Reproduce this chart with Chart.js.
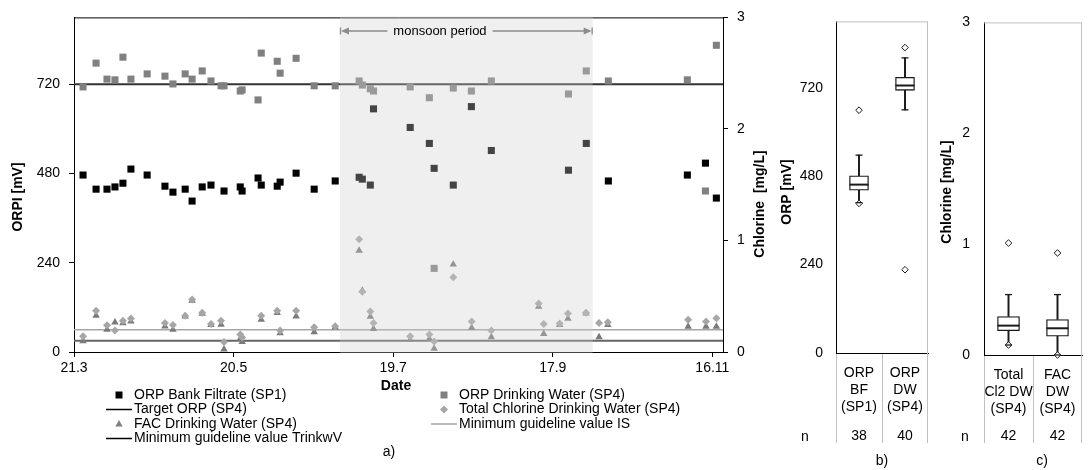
<!DOCTYPE html>
<html>
<head>
<meta charset="utf-8">
<title>ORP and chlorine</title>
<script src="https://cdn.jsdelivr.net/npm/chart.js@4.4.1/dist/chart.umd.min.js"></script>
<style>
  html, body { margin: 0; padding: 0; background: #fff; width: 1088px; height: 470px; overflow: hidden; }
  canvas { position: absolute; top: 0; }
  #chartA { left: 0; }
  #chartB { left: 770px; }
  #chartC { left: 935px; }
</style>
</head>
<body>
<canvas id="chartA" width="775" height="470"></canvas>
<canvas id="chartB" width="170" height="470"></canvas>
<canvas id="chartC" width="160" height="470"></canvas>
<script>
// x axis: days counted from 21.3
const DAY_TICKS = [0, 60, 120, 180, 240];
const DATE_LABELS = ['21.3', '20.5', '19.7', '17.9', '16.11'];
const X_RANGE = [0, 244];
const MONSOON = [100, 195];

const ORP_TICKS = [0, 240, 480, 720];
const CL_TICKS = [0, 1, 2, 3];

// ORP bank filtrate (SP1) [mV]
const BF_DAYS = [3.4, 8.3, 12.4, 15.4, 18.4, 21.4, 27.5, 34.2, 37.2, 41.8, 44.4, 48.2, 51.5, 56.4, 62.5, 63.2, 69.2, 70.4, 76.4, 77.5,
                 83.5, 90.3, 98.2, 107.2, 108.4, 111.4, 112.6, 126.4, 133.6, 135.4, 142.6, 149.4, 156.9, 185.9, 192.6, 200.9, 230.6, 237.4, 241.5];
const BF_ORP  = [476, 438, 438, 444, 454, 492, 476, 446, 430, 438, 406, 444, 449, 433, 444, 433, 468, 449, 446, 457,
                 481, 438, 460, 470, 465, 449, 654, 604, 561, 494, 449, 660, 542, 489, 561, 460, 476, 508, 414];

// ORP drinking water (SP4) [mV]
const DW_DAYS = [3.4, 8.3, 12.4, 15.4, 18.4, 21.4, 27.5, 34.2, 37.2, 41.8, 44.4, 48.2, 51.5, 55.3, 56.4, 62.5, 63.2, 69.2, 70.4, 76.4,
                 77.5, 83.5, 90.3, 98.2, 107.2, 108.4, 111.4, 112.6, 126.4, 133.6, 135.4, 142.6, 149.4, 156.9, 185.9, 192.6, 200.9, 230.6, 237.4, 241.5];
const DW_ORP  = [713, 777, 734, 732, 793, 734, 748, 742, 721, 748, 734, 756, 729, 716, 716, 702, 705, 678, 804, 782,
                 750, 790, 716, 716, 729, 718, 708, 702, 713, 684, 225, 710, 702, 729, 694, 756, 729, 732, 433, 825];

// chlorine drinking water (SP4) [mg/L]
const CL_DAYS  = [3.4, 8.3, 12.4, 15.4, 18.4, 21.4, 34.2, 37.2, 41.8, 44.4, 48.2, 51.5, 55.3, 56.4, 62.5, 63.2, 70.4, 76.4, 77.5,
                  83.5, 90.3, 98.2, 107.2, 108.4, 111.4, 112.6, 126.4, 133.6, 135.4, 142.6, 149.5, 156.9,
                  174.7, 176.6, 182.6, 185.7, 192.5, 197.4, 200.7, 230.9, 237.6, 241.5];
const TOTAL_CL = [0.142, 0.37, 0.24, 0.193, 0.28, 0.30, 0.26, 0.243, 0.326, 0.47, 0.352, 0.252, 0.28, 0.09, 0.157, 0.13, 0.326, 0.37, 0.193,
                  0.37, 0.222, 0.23, 1.01, 0.54, 0.364, 0.26, 0.142, 0.157, 0.095, 0.67, 0.273, 0.193,
                  0.435, 0.252, 0.255, 0.346, 0.352, 0.26, 0.266, 0.29, 0.273, 0.302];
const FAC      = [0.098, 0.326, 0.2, 0.266, 0.26, 0.275, 0.23, 0.2, 0.32, 0.46, 0.345, 0.243, 0.246, 0.024, 0.119, 0.09, 0.29, 0.35, 0.169,
                  0.32, 0.178, 0.22, 0.91, 0.55, 0.317, 0.207, 0.11, 0.119, 0.03, 0.785, 0.217, 0.133,
                  0.406, 0.163, 0.243, 0.30, 0.346, 0.133, 0.243, 0.228, 0.228, 0.228];

const TARGET_ORP = 720;
const MIN_TRINKWV = 0.1;
const MIN_IS = 0.2;

// box plots b) ORP
const B_LABELS = [['ORP', 'BF', '(SP1)'], ['ORP', 'DW', '(SP4)']];
const B_N = [38, 40];
const B_Q1 = [442, 713];
const B_MED = [457, 726];
const B_Q3 = [481, 748];
const B_WLO = [408, 660];
const B_WHI = [537, 801];
const B_OUT_LO = [406, 226];
const B_OUT_HI = [659, 829];

// box plots c) chlorine
const C_LABELS = [['Total', 'Cl2 DW', '(SP4)'], ['FAC', 'DW', '(SP4)']];
const C_N = [42, 42];
const C_Q1 = [0.22, 0.17];
const C_MED = [0.265, 0.241];
const C_Q3 = [0.347, 0.32];
const C_WLO = [0.09, 0];
const C_WHI = [0.545, 0.545];
const C_OUT_LO = [0.09, 0];
const C_OUT_HI = [1.01, 0.92];

const FONT = 'Arial, "Liberation Sans", Helvetica, sans-serif';
Chart.defaults.font.family = FONT;
Chart.defaults.font.size = 14;
Chart.defaults.color = '#000';

const toXY = (xs, ys) => xs.map((d, i) => ({x: d, y: ys[i]}));
const hLine = v => [{x: X_RANGE[0], y: v}, {x: X_RANGE[1], y: v}];
const fixedTicks = list => s => { s.ticks = list.map(v => ({value: v})); };

function marker(ctx, kind, cx, cy, color) {
  ctx.fillStyle = color;
  ctx.strokeStyle = color;
  ctx.beginPath();
  if (kind === 'rect') {
    ctx.rect(cx - 3.5, cy - 3.5, 7, 7);
    ctx.fill();
  } else if (kind === 'tri') {
    ctx.moveTo(cx, cy - 4); ctx.lineTo(cx + 3.7, cy + 2.5); ctx.lineTo(cx - 3.7, cy + 2.5);
    ctx.closePath(); ctx.fill();
  } else if (kind === 'diamond') {
    ctx.moveTo(cx, cy - 4); ctx.lineTo(cx + 4, cy); ctx.lineTo(cx, cy + 4); ctx.lineTo(cx - 4, cy);
    ctx.closePath(); ctx.fill();
  } else {
    ctx.lineWidth = 1.5;
    ctx.moveTo(cx - 13, cy); ctx.lineTo(cx + 13, cy); ctx.stroke();
  }
}

function vTitle(ctx, text, x, y) {
  ctx.save();
  ctx.translate(x, y);
  ctx.rotate(-Math.PI / 2);
  ctx.font = 'bold 14px ' + FONT;
  ctx.fillStyle = '#000';
  ctx.textAlign = 'center';
  ctx.textBaseline = 'middle';
  ctx.fillText(text, 0, 0);
  ctx.restore();
}

const mainExtras = {
  id: 'mainExtras',
  beforeDatasetsDraw(chart) {
    const {ctx, chartArea: a} = chart;
    ctx.save();
    ctx.strokeStyle = '#000';
    ctx.lineWidth = 1;
    ctx.beginPath();
    ctx.moveTo(a.left, a.top + 0.5);
    ctx.lineTo(a.right, a.top + 0.5);
    ctx.stroke();
    ctx.restore();
  },
  afterDatasetsDraw(chart) {
    const {ctx, chartArea: a, scales: {x}} = chart;
    const x0 = x.getPixelForValue(MONSOON[0]);
    const x1 = x.getPixelForValue(MONSOON[1]);
    ctx.save();
    ctx.fillStyle = 'rgba(206,206,206,0.33)';
    ctx.fillRect(x0, a.top - 1, x1 - x0, a.bottom - a.top + 2);

    // monsoon label with arrows
    const y = 31;
    ctx.font = '13px ' + FONT;
    ctx.textAlign = 'center';
    ctx.textBaseline = 'middle';
    const tx = x0 + 100;
    const tw = ctx.measureText('monsoon period').width;
    ctx.fillStyle = '#000';
    ctx.fillText('monsoon period', tx, y);
    ctx.strokeStyle = '#8c8c8c';
    ctx.fillStyle = '#8c8c8c';
    ctx.lineWidth = 1.3;
    ctx.beginPath();
    ctx.moveTo(x0 + 7, y); ctx.lineTo(tx - tw / 2 - 6, y);
    ctx.moveTo(tx + tw / 2 + 6, y); ctx.lineTo(x1 - 7, y);
    ctx.moveTo(x0 + 0.5, y - 3.5); ctx.lineTo(x0 + 0.5, y + 3.5);
    ctx.moveTo(x1 - 0.5, y - 3.5); ctx.lineTo(x1 - 0.5, y + 3.5);
    ctx.stroke();
    ctx.beginPath();
    ctx.moveTo(x0 + 1, y); ctx.lineTo(x0 + 9, y - 3.5); ctx.lineTo(x0 + 9, y + 3.5); ctx.closePath();
    ctx.moveTo(x1 - 1, y); ctx.lineTo(x1 - 9, y - 3.5); ctx.lineTo(x1 - 9, y + 3.5); ctx.closePath();
    ctx.fill();
    ctx.restore();
  },
  afterDraw(chart) {
    const {ctx} = chart;
    const ds = chart.data.datasets;
    vTitle(ctx, 'ORPI [mV]', 18, 197);
    vTitle(ctx, 'Chlorine  [mg/L]', 760, 204);

    ctx.save();
    ctx.font = 'bold 14px ' + FONT;
    ctx.fillStyle = '#000';
    ctx.textAlign = 'center';
    ctx.textBaseline = 'middle';
    ctx.fillText('Date', 396, 386);

    // legend: [dataset index, column, row, marker]
    const rows = [395, 409.5, 424, 438.5];
    const cols = [119, 444];
    const items = [[0, 0, 0, 'rect'], [4, 0, 1, 'line'], [3, 0, 2, 'tri'], [5, 0, 3, 'line'],
                   [1, 1, 0, 'rect'], [2, 1, 1, 'diamond'], [6, 1, 2, 'line']];
    const legendColor = ['#000', '#808080', '#a6a6a6', '#808080', '#000', '#000', '#a6a6a6'];
    ctx.font = '14px ' + FONT;
    ctx.textAlign = 'left';
    items.forEach(([i, c, r, kind]) => {
      marker(ctx, kind, cols[c], rows[r], legendColor[i]);
      ctx.fillStyle = '#000';
      ctx.fillText(ds[i].label, cols[c] + 15, rows[r]);
    });
    ctx.textAlign = 'center';
    ctx.fillText('a)', 389, 452);
    ctx.restore();
  }
};

const pointSet = (label, data, axis, style, radius, color) => ({
  label, data, yAxisID: axis, pointStyle: style, pointRadius: radius,
  pointBackgroundColor: color, pointBorderColor: color, pointBorderWidth: 0,
  backgroundColor: color, borderColor: color, showLine: false, clip: false
});
const lineSet = (label, value, axis, color, width) => ({
  type: 'line', label, data: hLine(value), yAxisID: axis,
  borderColor: color, borderWidth: width, pointRadius: 0, fill: false
});

new Chart(document.getElementById('chartA'), {
  type: 'scatter',
  data: {
    datasets: [
      pointSet('ORP Bank Filtrate (SP1)', toXY(BF_DAYS, BF_ORP), 'yOrp', 'rect', 5, '#000'),
      pointSet('ORP Drinking Water (SP4)', toXY(DW_DAYS, DW_ORP), 'yOrp', 'rect', 5, '#808080'),
      pointSet('Total Chlorine Drinking Water (SP4)', toXY(CL_DAYS, TOTAL_CL), 'yCl', 'rectRot', 4, '#a6a6a6'),
      pointSet('FAC Drinking Water (SP4)', toXY(CL_DAYS, FAC), 'yCl', 'triangle', 4.3, '#7a7a7a'),
      lineSet('Target ORP (SP4)', TARGET_ORP, 'yOrp', '#333', 2),
      lineSet('Minimum guideline value TrinkwV', MIN_TRINKWV, 'yCl', '#666', 2),
      lineSet('Minimum guideline value IS', MIN_IS, 'yCl', '#a6a6a6', 1.6)
    ]
  },
  options: {
    responsive: false,
    animation: false,
    events: [],
    layout: {padding: {top: 14, left: 0, right: 0, bottom: 0}},
    plugins: {legend: {display: false}, tooltip: {enabled: false}},
    scales: {
      x: {
        type: 'linear', min: X_RANGE[0], max: X_RANGE[1],
        afterBuildTicks: fixedTicks(DAY_TICKS),
        afterFit: s => { s.height = 118; },
        ticks: {callback: v => DATE_LABELS[DAY_TICKS.indexOf(v)], padding: 3, maxRotation: 0, autoSkip: false},
        grid: {drawOnChartArea: false, tickLength: 5, color: '#000'},
        border: {color: '#000'}
      },
      yOrp: {
        type: 'linear', position: 'left', min: 0, max: 900,
        afterBuildTicks: fixedTicks(ORP_TICKS),
        afterFit: s => { s.width = 74; },
        ticks: {padding: 9},
        grid: {drawOnChartArea: false, tickLength: 5, color: '#000'},
        border: {color: '#000'}
      },
      yCl: {
        type: 'linear', position: 'right', min: 0, max: 3,
        afterBuildTicks: fixedTicks(CL_TICKS),
        afterFit: s => { s.width = 52; },
        ticks: {padding: 9},
        grid: {drawOnChartArea: false, tickLength: 5, color: '#000'},
        border: {color: '#000'}
      }
    }
  },
  plugins: [mainExtras]
});

function boxExtras(cfg) {
  return {
    id: 'boxExtras',
    afterDraw(chart) {
      const {ctx, chartArea: a, scales: {x}} = chart;
      const mid = Math.round((x.getPixelForTick(0) + x.getPixelForTick(1)) / 2) + 0.5;
      ctx.save();
      ctx.strokeStyle = '#c0c0c0';
      ctx.lineWidth = 1;
      ctx.beginPath();
      ctx.moveTo(a.left, a.top + 0.5); ctx.lineTo(a.right, a.top + 0.5);
      ctx.moveTo(a.right - 0.5, a.top); ctx.lineTo(a.right - 0.5, cfg.tableBottom);
      ctx.moveTo(a.left + 0.5, a.bottom + 1); ctx.lineTo(a.left + 0.5, cfg.tableBottom);
      ctx.moveTo(mid, a.bottom + 1); ctx.lineTo(mid, cfg.tableBottom);
      ctx.stroke();
      ctx.fillStyle = '#000';
      ctx.font = '14px ' + FONT;
      ctx.textAlign = 'center';
      ctx.textBaseline = 'alphabetic';
      ctx.fillText('n', cfg.nX, 441);
      cfg.n.forEach((v, i) => ctx.fillText(String(v), x.getPixelForTick(i), 440));
      ctx.textBaseline = 'middle';
      ctx.fillText(cfg.panel, cfg.panelX, 461);
      ctx.restore();
      vTitle(ctx, cfg.title, cfg.titleX, cfg.titleY);
    }
  };
}

function boxChart(id, labels, s, cfg) {
  const ink = '#1a1a1a';
  const pts = (data, style, r, w, fill) => ({
    type: 'line', data, showLine: false, pointStyle: style, pointRadius: r,
    pointBorderColor: ink, pointBorderWidth: w, pointBackgroundColor: fill || ink, clip: false, order: 0
  });
  const bars = (data, thick, fill, bw, order) => ({
    type: 'bar', data, barThickness: thick, backgroundColor: fill, borderColor: ink,
    borderWidth: bw, borderSkipped: false, grouped: false, order
  });
  return new Chart(document.getElementById(id), {
    type: 'bar',
    data: {
      labels,
      datasets: [
        pts(s.med, 'line', cfg.box / 2, 2),
        pts(s.whi, 'line', 3.5, 1.3),
        pts(s.wlo, 'line', 3.5, 1.3),
        pts(s.outHi, 'rectRot', 3.3, 1, '#fff'),
        pts(s.outLo, 'rectRot', 3.3, 1, '#fff'),
        bars(s.q1.map((v, i) => [v, s.q3[i]]), cfg.box, '#fff', 1.3, 1),
        bars(s.wlo.map((v, i) => [v, s.q1[i]]), 1.3, ink, 0, 2),
        bars(s.q3.map((v, i) => [v, s.whi[i]]), 1.3, ink, 0, 2)
      ]
    },
    options: {
      responsive: false,
      animation: false,
      events: [],
      layout: {padding: {top: cfg.top, right: cfg.right, left: 0, bottom: 0}},
      plugins: {legend: {display: false}, tooltip: {enabled: false}},
      scales: {
        x: {
          afterFit: sc => { sc.height = cfg.xHeight; },
          ticks: {padding: 11, maxRotation: 0, autoSkip: false, font: {size: 14, lineHeight: 1.24}},
          grid: {display: false, drawTicks: false},
          border: {color: '#000'}
        },
        y: {
          min: 0, max: cfg.max,
          afterBuildTicks: fixedTicks(cfg.ticks),
          afterFit: sc => { sc.width = cfg.yWidth; },
          ticks: {padding: cfg.pad},
          grid: {display: false, drawTicks: false},
          border: {color: '#000'}
        }
      }
    },
    plugins: [boxExtras(cfg)]
  });
}

boxChart('chartB', B_LABELS,
  {q1: B_Q1, med: B_MED, q3: B_Q3, wlo: B_WLO, whi: B_WHI, outLo: B_OUT_LO, outHi: B_OUT_HI},
  {box: 19, top: 15, right: 12, xHeight: 117, yWidth: 66, pad: 13, max: 900, ticks: ORP_TICKS,
   tableBottom: 443, n: B_N, nX: 35, panel: 'b)', panelX: 112, title: 'ORP [mV]', titleX: 17, titleY: 192});

boxChart('chartC', C_LABELS,
  {q1: C_Q1, med: C_MED, q3: C_Q3, wlo: C_WLO, whi: C_WHI, outLo: C_OUT_LO, outHi: C_OUT_HI},
  {box: 22, top: 15, right: 3, xHeight: 115, yWidth: 49, pad: 14, max: 3, ticks: CL_TICKS,
   tableBottom: 443, n: C_N, nX: 30, panel: 'c)', panelX: 107, title: 'Chlorine [mg/L]', titleX: 12, titleY: 192});
</script>
</body>
</html>
